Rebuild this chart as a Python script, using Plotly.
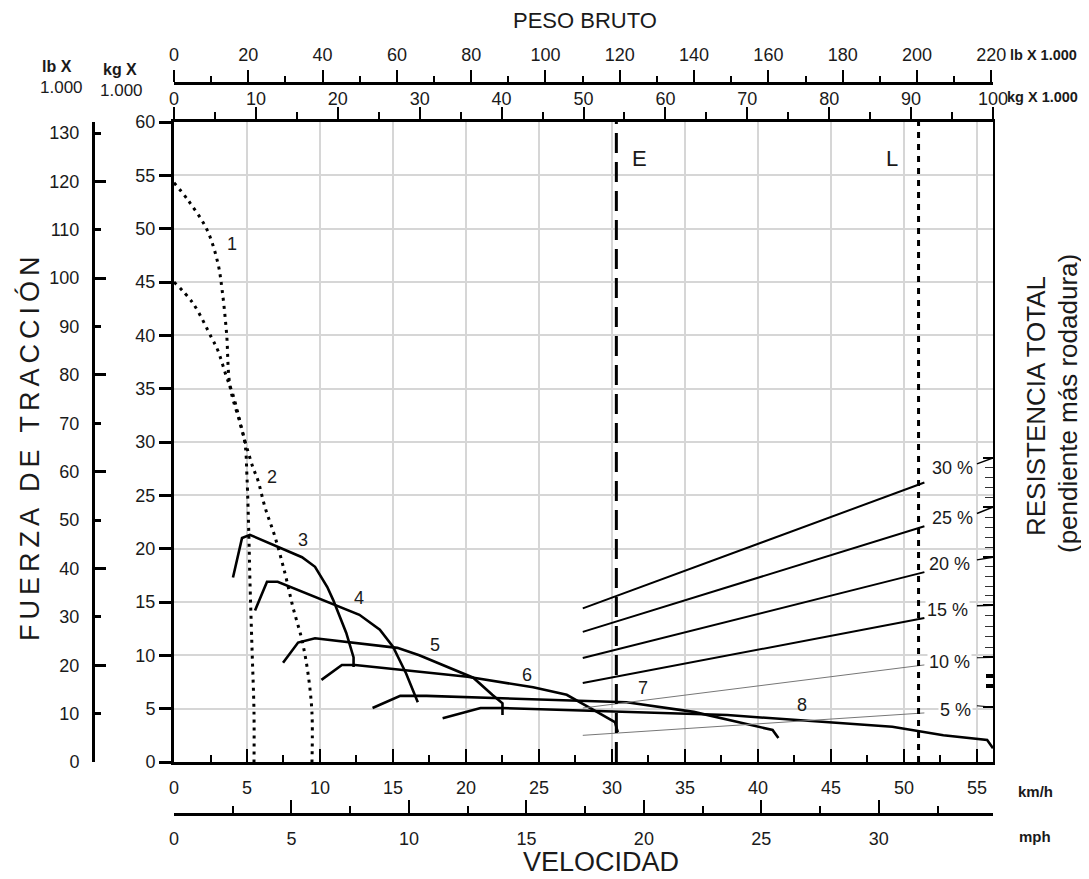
import numpy as np
import plotly.graph_objects as go

# ---------------- DATA (km/h vs kg x 1000) ----------------
c1_x = [0, 1.0, 2.26, 3.0, 3.3, 3.6, 3.84, 4.52, 4.86, 5.0, 5.13, 5.2, 5.34, 5.48, 5.48]
c1_y = [54.3, 52.6, 49.9, 46.8, 44.2, 40.2, 35.2, 31.8, 29.9, 26.7, 21.1, 17.1, 10.8, 4.6, 0]
c2_x = [0, 1.3, 2.6, 3.0, 3.6, 4.0, 4.38, 4.7, 5.07, 5.41, 5.75, 6.23, 6.92, 7.6, 8.15, 8.77, 9.18, 9.45, 9.45]
c2_y = [45, 43, 39.7, 38.6, 36.1, 34.6, 32.7, 30.9, 29.1, 27.6, 26.4, 23.9, 21.1, 17.7, 14.5, 11.4, 8.3, 4.6, 0]
c3_x = [4.04, 4.66, 5.2, 8.77, 9.66, 10.5, 10.9, 11.8, 12.3, 12.3]
c3_y = [17.3, 21.0, 21.3, 19.2, 18.3, 16.4, 15.2, 12.1, 9.8, 8.9]
c4_x = [5.55, 6.37, 7.1, 11.0, 12.7, 14.1, 15.0, 15.9, 16.7]
c4_y = [14.2, 16.9, 16.9, 14.7, 13.8, 12.4, 10.8, 8.3, 5.6]
c5_x = [7.47, 8.5, 9.66, 15.3, 16.8, 18.4, 20.5, 21.8, 22.5, 22.5]
c5_y = [9.3, 11.2, 11.6, 10.7, 10.0, 9.1, 7.9, 6.3, 5.5, 4.4]
c6_x = [10.1, 11.5, 12.4, 20.1, 24.6, 26.9, 28.7, 30.2, 30.4]
c6_y = [7.7, 9.1, 9.1, 8.0, 7.0, 6.3, 4.9, 3.75, 2.8]
c7_x = [13.6, 15.5, 17.3, 31.0, 35.6, 38.6, 41.0, 41.4]
c7_y = [5.06, 6.2, 6.2, 5.6, 4.7, 3.75, 3.0, 2.25]
c8_x = [18.4, 21.0, 22.5, 37.9, 49.2, 52.7, 55.7, 56.1]
c8_y = [4.1, 5.06, 5.06, 4.4, 3.3, 2.5, 2.06, 1.3]

curve_labels = ["1", "2", "3", "4", "5", "6", "7", "8"]
label_x = [3.97, 6.7, 8.85, 12.7, 17.9, 24.2, 32.1, 43.0]
label_y = [48.6, 26.7, 20.8, 15.4, 11.0, 8.15, 6.9, 5.3]

grades = ["30 %", "25 %", "20 %", "15 %", "10 %", "5 %"]
grade_x = [28.0, 51.4]
grade_y_start = [14.4, 12.2, 9.75, 7.4, 5.06, 2.5]
grade_y_end = [26.2, 22.1, 17.8, 13.5, 9.1, 4.6]
grade_label_x = [53.3, 53.3, 53.15, 53.0, 53.15, 53.5]
grade_label_y = [27.55, 22.9, 18.55, 14.25, 9.37, 4.87]
scale_major = [28.5, 23.9, 19.2, 14.7, 9.8, 5.15]
scale_marks = [8.06, 7.12]

E_speed = 30.3
L_speed = 51.0

KMH_MAX = 56.1
KG_MAX = 60
KMH_PER_MPH = 1.609344
LB_PER_KG = 2.20462

FONT = "Liberation Sans, Arial, sans-serif"
INK = "#1a1a1a"

# ---------------- FIGURE ----------------
fig = go.Figure()

solid = dict(color="black", width=2.6)
dotted = dict(color="black", width=3, dash="3px,5px")

fig.add_trace(go.Scatter(x=c1_x, y=c1_y, mode="lines", line=dotted, line_shape="spline"))
fig.add_trace(go.Scatter(x=c2_x, y=c2_y, mode="lines", line=dotted, line_shape="spline"))
for cx, cy in [(c3_x, c3_y), (c4_x, c4_y), (c5_x, c5_y), (c6_x, c6_y), (c7_x, c7_y), (c8_x, c8_y)]:
    fig.add_trace(go.Scatter(x=cx, y=cy, mode="lines", line=solid))

# grade lines
for i, g in enumerate(grades):
    thin = g in ("10 %", "5 %")
    fig.add_trace(go.Scatter(
        x=grade_x, y=[grade_y_start[i], grade_y_end[i]], mode="lines",
        line=dict(color="#777777" if thin else "black", width=1 if thin else 2)))
    # connector from label to the resistance scale
    fig.add_trace(go.Scatter(
        x=[55.0, KMH_MAX], y=[grade_label_y[i] + 0.4, scale_major[i]], mode="lines",
        line=dict(color="black", width=1.5 if not thin else 1)))

# E and L verticals
fig.add_trace(go.Scatter(x=[E_speed, E_speed], y=[0, KG_MAX], mode="lines",
                         line=dict(color="black", width=3, dash="20px,9px")))
fig.add_trace(go.Scatter(x=[L_speed, L_speed], y=[0, KG_MAX], mode="lines",
                         line=dict(color="black", width=3, dash="6px,6px")))

# --------------- AXES ---------------
# the page adds an 8px body margin, so the figure is 8px smaller and
# reference pixel positions are shifted by 8
OFF = 8
W, H = 1089 - OFF, 879 - OFF
L, R, T, B = 32, 96, 32, 40
PW, PH = W - L - R, H - T - B


def px(xp):
    return (xp - OFF - L) / PW


def py(yp):
    return (H - B - (yp - OFF)) / PH


xdom = [px(174), px(993)]
ydom = [py(762), py(122)]

tickfont = dict(family=FONT, size=18, color=INK)

fig.update_layout(
    width=W, height=H, margin=dict(l=L, r=R, t=T, b=B),
    paper_bgcolor="white", plot_bgcolor="white", showlegend=False,
    font=dict(family=FONT, color=INK),
    xaxis=dict(domain=xdom, range=[0, KMH_MAX], anchor="y", side="bottom",
               showline=True, linewidth=3, linecolor="black", zeroline=False,
               ticks="inside", ticklen=13, tickwidth=2, tickcolor="black",
               tick0=0, dtick=5, tickfont=tickfont, ticklabelstandoff=7,
               minor=dict(dtick=2.5, ticks="inside", ticklen=7, tickwidth=2, tickcolor="black", showgrid=False),
               showgrid=True, gridcolor="#d6d6d6", gridwidth=1.5),
    xaxis2=dict(overlaying="x", range=[0, KMH_MAX / KMH_PER_MPH], anchor="free", position=py(814),
                side="bottom", showline=True, linewidth=3, linecolor="black", zeroline=False,
                ticks="inside", ticklen=13, tickwidth=2, tickcolor="black",
                tick0=0, dtick=5, tickfont=tickfont, ticklabelstandoff=7,
                minor=dict(dtick=2.5, ticks="inside", ticklen=7, tickwidth=2, tickcolor="black", showgrid=False),
                showgrid=False),
    xaxis3=dict(overlaying="x", range=[0, 100], anchor="y", side="top",
                showline=True, linewidth=3, linecolor="black", zeroline=False,
                ticks="outside", ticklen=12, tickwidth=2, tickcolor="black",
                tick0=0, dtick=10, tickfont=tickfont, ticklabelstandoff=-5,
                minor=dict(dtick=5, ticks="outside", ticklen=7, tickwidth=2, tickcolor="black", showgrid=False),
                showgrid=False),
    xaxis4=dict(overlaying="x", range=[0, 100 * LB_PER_KG], anchor="free", position=py(83), side="top",
                showline=True, linewidth=3, linecolor="black", zeroline=False,
                ticks="outside", ticklen=12, tickwidth=2, tickcolor="black",
                tick0=0, dtick=20, tickfont=tickfont, ticklabelstandoff=2,
                minor=dict(dtick=10, ticks="outside", ticklen=6, tickwidth=2, tickcolor="black", showgrid=False),
                showgrid=False),
    yaxis=dict(domain=ydom, range=[0, KG_MAX], anchor="x", side="left",
               showline=True, linewidth=3, linecolor="black", zeroline=False,
               ticks="outside", ticklen=12, tickwidth=2.5, tickcolor="black",
               tick0=0, dtick=5, tickfont=tickfont,
               showgrid=True, gridcolor="#d6d6d6", gridwidth=1.5),
    yaxis2=dict(overlaying="y", range=[0, KG_MAX * LB_PER_KG], anchor="free", position=px(93), side="left",
                showline=True, linewidth=3, linecolor="black", zeroline=False,
                ticks="inside", ticklen=6, tickwidth=2.5, tickcolor="black",
                tickmode="array", tickvals=list(range(0, 131, 10)), tickfont=tickfont,
                ticklabelstandoff=9, showgrid=False),
    yaxis3=dict(overlaying="y", range=[0, KG_MAX * LB_PER_KG], anchor="free", position=px(93), side="left",
                showline=False, zeroline=False, showticklabels=False,
                ticks="inside", ticklen=12, tickwidth=2.5, tickcolor="black",
                tickmode="array", tickvals=list(range(0, 121, 20)), showgrid=False),
    yaxis4=dict(overlaying="y", range=[0, KG_MAX], anchor="x", side="right",
                showline=True, linewidth=2, linecolor="black", zeroline=False, showticklabels=False,
                ticks="inside", ticklen=10, tickwidth=2, tickcolor="black",
                tickmode="array", tickvals=scale_major,
                minor=dict(tickmode="array",
                           tickvals=[v for a, b in zip(scale_major[:4], scale_major[1:5])
                                     for v in np.linspace(a, b, 6)[1:-1]],
                           ticks="inside", ticklen=8, tickwidth=1, tickcolor="#333", showgrid=False),
                showgrid=False),
    yaxis5=dict(overlaying="y", range=[0, KG_MAX], anchor="x", side="right",
                showline=False, zeroline=False, showticklabels=False,
                ticks="inside", ticklen=7, tickwidth=4, tickcolor="black",
                tickmode="array", tickvals=scale_marks, showgrid=False),
)

# invisible traces to bind the extra axes
for xa, ya in [("x2", "y"), ("x3", "y"), ("x4", "y"), ("x", "y2"), ("x", "y3"), ("x", "y4"), ("x", "y5")]:
    fig.add_trace(go.Scatter(x=[None], y=[None], xaxis=xa, yaxis=ya, mode="lines", hoverinfo="skip"))

# --------------- TEXT ---------------
ann = []
for t, x, y in zip(curve_labels, label_x, label_y):
    ann.append(dict(x=x, y=y, xref="x", yref="y", text=t, showarrow=False,
                    font=dict(family=FONT, size=18, color=INK)))
for t, x, y in zip(grades, grade_label_x, grade_label_y):
    ann.append(dict(x=x, y=y, xref="x", yref="y", text=t, showarrow=False,
                    font=dict(family=FONT, size=18, color=INK), bgcolor="white"))
ann.append(dict(x=E_speed + 1.6, y=56.6, xref="x", yref="y", text="E", showarrow=False,
                font=dict(family=FONT, size=22, color=INK)))
ann.append(dict(x=L_speed - 1.8, y=56.6, xref="x", yref="y", text="L", showarrow=False,
                font=dict(family=FONT, size=22, color=INK)))


def pa(text, xp, yp, size, bold=False, angle=0, xanchor="center"):
    ann.append(dict(x=px(xp), y=py(yp), xref="paper", yref="paper", text=(f"<b>{text}</b>" if bold else text),
                    showarrow=False, textangle=angle, xanchor=xanchor, yanchor="middle",
                    font=dict(family=FONT, size=size, color=INK)))


pa("PESO BRUTO", 585, 21, 22)
pa("VELOCIDAD", 601, 862, 27)
pa('<span style="letter-spacing:5px">FUERZA DE TRACCIÓN</span>', 29, 446, 27, angle=-90)
pa("RESISTENCIA TOTAL", 1036, 406, 26, angle=-90)
pa("(pendiente más rodadura)", 1068, 404, 26, angle=-90)
pa("lb X 1.000", 1008, 55, 14.5, bold=True, xanchor="left")
pa("kg X 1.000", 1005, 97, 14.5, bold=True, xanchor="left")
pa("lb X", 57, 67, 16, bold=True)
pa("1.000", 61, 88, 17)
pa("kg X", 120, 69, 16, bold=True)
pa("1.000", 121, 91, 17)
pa("km/h", 1016, 791, 15, bold=True, xanchor="left")
pa("mph", 1017, 836, 15, bold=True, xanchor="left")

fig.update_layout(annotations=ann)

fig.write_html("out.html")
